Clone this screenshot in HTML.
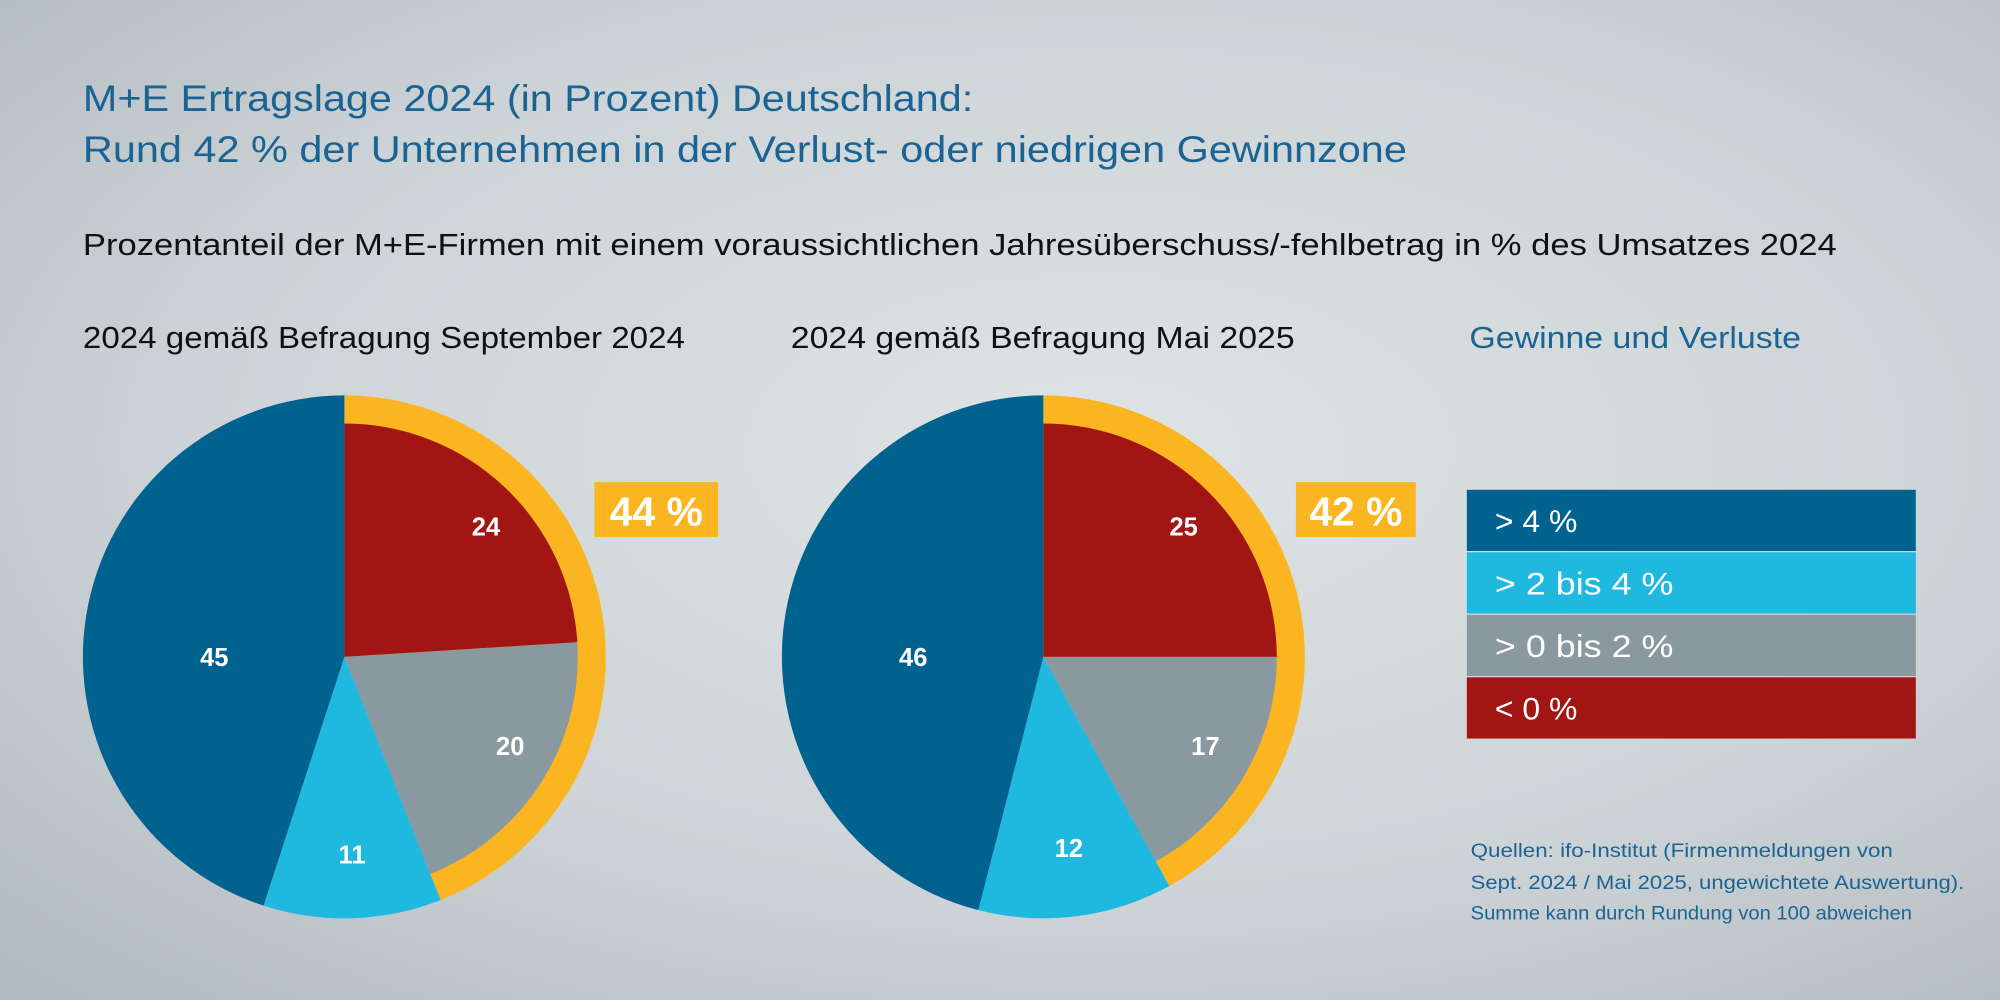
<!DOCTYPE html>
<html><head><meta charset="utf-8"><style>
html,body{margin:0;padding:0;width:2000px;height:1000px;overflow:hidden}
svg{display:block}
text{font-family:"Liberation Sans",sans-serif}
</style></head><body>
<svg width="2000" height="1000" viewBox="0 0 1568 784" xmlns="http://www.w3.org/2000/svg">
<defs>
<radialGradient id="bg" cx="0.55" cy="0.45" r="0.75">
<stop offset="0" stop-color="#dfe3e5"/>
<stop offset="0.6" stop-color="#cdd3d6"/>
<stop offset="1" stop-color="#b2bbc1"/>
</radialGradient>
</defs>
<rect width="1568" height="784" fill="url(#bg)"/>
<text x="65" y="87" font-size="29" fill="#1a6494" textLength="698" lengthAdjust="spacingAndGlyphs">M+E Ertragslage 2024 (in Prozent) Deutschland:</text>
<text x="65" y="127" font-size="29" fill="#1a6494" textLength="1038" lengthAdjust="spacingAndGlyphs">Rund 42 % der Unternehmen in der Verlust- oder niedrigen Gewinnzone</text>
<text x="65" y="200" font-size="24" fill="#111" textLength="1375" lengthAdjust="spacingAndGlyphs">Prozentanteil der M+E-Firmen mit einem voraussichtlichen Jahresüberschuss/-fehlbetrag in % des Umsatzes 2024</text>
<text x="65" y="273" font-size="24" fill="#111" textLength="472" lengthAdjust="spacingAndGlyphs">2024 gemäß Befragung September 2024</text>
<text x="620" y="273" font-size="24" fill="#111" textLength="395" lengthAdjust="spacingAndGlyphs">2024 gemäß Befragung Mai 2025</text>
<text x="1152" y="273" font-size="24" fill="#1a6494" textLength="260" lengthAdjust="spacingAndGlyphs">Gewinne und Verluste</text>

<!-- Pie 1 -->
<path d="M270,515 L270,310 A205,205 0 0 1 345.46,705.60 Z" fill="#fbb520"/>
<path d="M270,515 L270,332 A183,183 0 0 1 452.64,503.51 Z" fill="#a11512"/>
<path d="M270,515 L452.64,503.51 A183,183 0 0 1 337.37,685.15 Z" fill="#8a989f"/>
<path d="M270,515 L345.46,705.60 A205,205 0 0 1 206.65,709.97 Z" fill="#1fb9e0"/>
<path d="M270,515 L206.65,709.97 A205,205 0 0 1 270,310 Z" fill="#00628f"/>
<g font-size="20" font-weight="bold" fill="#fff" text-anchor="middle">
<text x="381" y="420">24</text><text x="400" y="592">20</text><text x="276" y="677">11</text><text x="168" y="522">45</text>
</g>
<rect x="466" y="378" width="97" height="43" fill="#fbb520"/>
<text x="514.5" y="412" font-size="32" font-weight="bold" fill="#fff" text-anchor="middle">44 %</text>

<!-- Pie 2 -->
<path d="M818,515 L818,310 A205,205 0 0 1 916.76,694.64 Z" fill="#fbb520"/>
<path d="M818,515 L818,332 A183,183 0 0 1 1001,515 Z" fill="#a11512"/>
<path d="M818,515 L1001,515 A183,183 0 0 1 906.16,675.36 Z" fill="#8a989f"/>
<path d="M818,515 L916.76,694.64 A205,205 0 0 1 767.02,713.56 Z" fill="#1fb9e0"/>
<path d="M818,515 L767.02,713.56 A205,205 0 0 1 818,310 Z" fill="#00628f"/>
<g font-size="20" font-weight="bold" fill="#fff" text-anchor="middle">
<text x="928" y="420">25</text><text x="945" y="592">17</text><text x="838" y="672">12</text><text x="716" y="522">46</text>
</g>
<rect x="1016" y="378" width="94" height="43" fill="#fbb520"/>
<text x="1063" y="412" font-size="32" font-weight="bold" fill="#fff" text-anchor="middle">42 %</text>

<!-- Legend -->
<rect x="1150" y="384" width="352" height="48" fill="#00628f"/>
<rect x="1150" y="433" width="352" height="48" fill="#1fb9e0"/>
<rect x="1150" y="482" width="352" height="48" fill="#8a989f"/>
<rect x="1150" y="531" width="352" height="48" fill="#a11512"/>
<g font-size="25" fill="#fff">
<text x="1172" y="417">&gt; 4 %</text>
<text x="1172" y="466" textLength="140" lengthAdjust="spacingAndGlyphs">&gt; 2 bis 4 %</text>
<text x="1172" y="515" textLength="140" lengthAdjust="spacingAndGlyphs">&gt; 0 bis 2 %</text>
<text x="1172" y="564">&lt; 0 %</text>
</g>
<g font-size="15.5" fill="#1a6494">
<text x="1153" y="672" textLength="331" lengthAdjust="spacingAndGlyphs">Quellen: ifo-Institut (Firmenmeldungen von</text>
<text x="1153" y="697" textLength="387" lengthAdjust="spacingAndGlyphs">Sept. 2024 / Mai 2025, ungewichtete Auswertung).</text>
<text x="1153" y="721" textLength="346" lengthAdjust="spacingAndGlyphs">Summe kann durch Rundung von 100 abweichen</text>
</g>
</svg>
</body></html>
